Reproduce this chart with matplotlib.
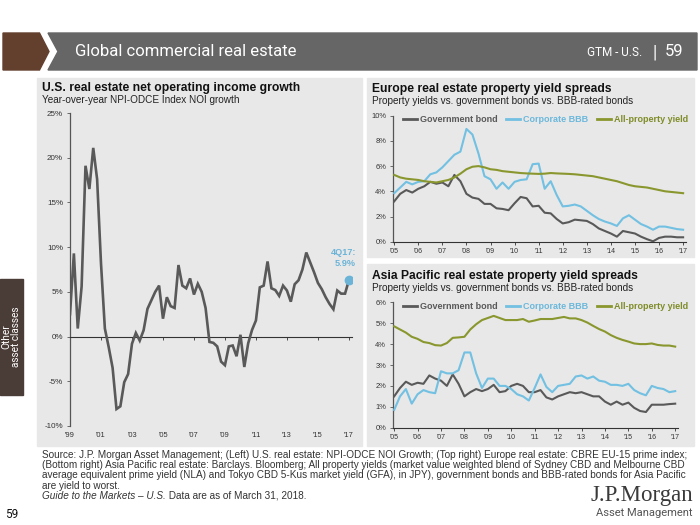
import matplotlib

matplotlib.use("Agg")
import matplotlib.pyplot as plt
from matplotlib.patches import Polygon, Rectangle

plt.rcParams["font.family"] = ["Liberation Sans", "DejaVu Sans"]

W, H = 700, 525

# --- datos ---
US_START = 1999  # trimestral, 1T99 .. 4T17
us_noi = [2.5, 9.3, 0.9, 5.6, 19.1, 16.5, 21.1, 17.6, 8.2, 0.9,
          -1.2, -3.5, -8.1, -7.8, -5.1, -4.2, -0.8, 0.4, -0.45, 0.7,
          3.1, 4.05, 5.0, 5.7, 2.0, 4.4, 3.4, 3.2, 8.0, 5.7,
          5.4, 6.5, 4.7, 5.9, 5.0, 3.2, -0.6, -0.7, -1.1, -2.8,
          -3.2, -1.1, -1.0, -2.2, 0.2, -3.4, -0.75, 0.75, 1.8, 5.5,
          5.7, 8.4, 5.4, 5.2, 4.55, 5.7, 5.15, 3.9, 5.85, 6.3,
          7.5, 9.4, 8.3, 7.2, 6.0, 5.3, 4.4, 3.65, 3.05, 5.15,
          4.8, 4.8, 6.3]
us_xticks = list(range(1999, 2018, 2))
us_xlabels = ["'99", "'01", "'03", "'05", "'07", "'09", "'11", "'13", "'15", "'17"]
us_yticks = [-10, -5, 0, 5, 10, 15, 20, 25]
us_ylabels = ["-10%", "-5%", "0%", "5%", "10%", "15%", "20%", "25%"]

YIELD_START = 2005  # trimestral, 2005 .. 2017
eu_gov = [3.2, 3.8, 4.1, 3.9, 4.2, 4.4, 4.75, 4.6, 4.7, 4.4,
          5.3, 4.8, 3.8, 3.5, 3.4, 3.0, 3.0, 2.65, 2.6, 2.5,
          3.05, 3.55, 3.45, 2.8, 2.85, 2.3, 2.25, 1.8, 1.45, 1.55,
          1.75, 1.7, 1.65, 1.4, 1.05, 0.85, 0.65, 0.4, 0.85, 0.75,
          0.65, 0.4, 0.2, 0.03, 0.3, 0.4, 0.4, 0.35, 0.35]
eu_bbb = [3.85, 4.3, 4.75, 4.55, 4.75, 4.8, 5.35, 5.5, 5.9, 6.4,
          6.9, 7.15, 8.95, 8.5, 7.0, 5.2, 4.95, 4.2, 4.7, 4.2,
          4.75, 4.9, 4.95, 6.15, 6.2, 4.2, 4.8, 3.7, 2.8, 2.85,
          2.95, 2.8, 2.45, 2.1, 1.8, 1.6, 1.45, 1.25, 1.85, 2.1,
          1.75, 1.4, 1.2, 0.95, 1.2, 1.2, 1.1, 1.0, 0.95]
eu_prop = [5.3, 5.1, 5.0, 4.95, 4.9, 4.8, 4.75, 4.7, 4.8, 4.9,
           5.1, 5.4, 5.75, 5.95, 6.0, 5.9, 5.75, 5.7, 5.6, 5.55,
           5.5, 5.45, 5.42, 5.4, 5.38, 5.4, 5.45, 5.42, 5.4, 5.38,
           5.35, 5.3, 5.25, 5.2, 5.1, 5.0, 4.9, 4.8, 4.65, 4.5,
           4.4, 4.35, 4.3, 4.2, 4.1, 4.0, 3.95, 3.9, 3.85]
ap_gov = [1.5, 1.9, 2.2, 2.05, 2.15, 2.1, 2.5, 2.35, 2.25, 2.0,
          2.55, 2.1, 1.5, 1.7, 1.85, 1.75, 1.85, 2.05, 1.7, 1.75,
          2.0, 2.1, 2.0, 1.7, 1.7, 1.8, 1.45, 1.35, 1.5, 1.6,
          1.7, 1.65, 1.7, 1.6, 1.5, 1.5, 1.25, 1.1, 1.25, 1.1,
          1.2, 0.95, 0.8, 0.75, 1.1, 1.1, 1.1, 1.13, 1.15]
ap_bbb = [0.85, 1.5, 1.85, 1.15, 1.6, 1.8, 1.7, 1.65, 2.7, 2.6,
          2.6, 2.75, 3.6, 3.6, 2.6, 1.9, 2.35, 2.35, 2.0, 2.0,
          1.85, 1.6, 1.5, 1.3, 1.9, 2.55, 1.95, 1.7, 2.0, 2.05,
          2.1, 2.45, 2.5, 2.35, 2.45, 2.25, 2.2, 2.05, 2.05, 2.0,
          2.1, 1.8, 1.65, 1.55, 2.0, 1.9, 1.85, 1.7, 1.75]
ap_prop = [4.85, 4.7, 4.55, 4.35, 4.25, 4.1, 4.05, 3.95, 3.93, 4.05,
           4.3, 4.32, 4.35, 4.7, 4.95, 5.15, 5.25, 5.35, 5.25, 5.15,
           5.15, 5.15, 5.2, 5.07, 5.13, 5.2, 5.2, 5.2, 5.25, 5.3,
           5.23, 5.23, 5.15, 5.03, 4.87, 4.72, 4.6, 4.43, 4.3, 4.2,
           4.12, 4.03, 4.0, 4.0, 4.03, 3.96, 3.93, 3.93, 3.88]
yield_xticks = list(range(2005, 2018))
yield_xlabels = ["'05", "'06", "'07", "'08", "'09", "'10", "'11", "'12",
                 "'13", "'14", "'15", "'16", "'17"]
series_names = ["Government bond", "Corporate BBB", "All-property yield"]

source_lines = [
    "Source: J.P. Morgan Asset Management; (Left) U.S. real estate: NPI-ODCE NOI Growth; (Top right) Europe real estate: CBRE EU-15 prime index;",
    "(Bottom right) Asia Pacific real estate: Barclays. Bloomberg; All property yields (market value weighted blend of Sydney CBD and Melbourne CBD",
    "average equivalent prime yield (NLA) and Tokyo CBD 5-Kus market yield (GFA), in JPY), government bonds and BBB-rated bonds for Asia Pacific",
    "are yield to worst.",
]

# --- estilo ---
GRAY_LINE = "#595959"
OLIVE = "#8a972e"
PANEL = "#e8e8e8"
TXT = "#333333"


def fx(x):
    return x / W


def fy(y):
    return 1 - y / H


def quarters(start, n):
    return [start + i / 4 for i in range(n)]


fig = plt.figure(figsize=(7, 5.25), dpi=100)

# cabecera
fig.patches.append(Polygon([(fx(3), fy(33)), (fx(39.5), fy(33)), (fx(49), fy(51.5)),
                            (fx(39.5), fy(70)), (fx(3), fy(70))],
                           closed=True, transform=fig.transFigure, color="#633f2e"))
fig.patches.append(Polygon([(fx(48), fy(33)), (fx(697), fy(33)), (fx(697), fy(70)),
                            (fx(48), fy(70)), (fx(58), fy(51.5))],
                           closed=True, transform=fig.transFigure, color="#666666"))
fig.text(fx(75), fy(52), "Global commercial real estate", color="white",
         family="Roboto", fontsize=12, va="center", ha="left")
fig.text(fx(642), fy(53), "GTM - U.S.", color="white", family="Roboto",
         fontsize=8.5, va="center", ha="right")
fig.text(fx(655), fy(52), "|", color="white", family="Roboto", fontsize=13,
         va="center", ha="center")
fig.text(fx(683), fy(52), "59", color="white", family="Roboto", fontsize=12,
         va="center", ha="right")

# pestaña lateral
fig.patches.append(Rectangle((0, fy(395)), fx(23), (395 - 279) / H,
                             transform=fig.transFigure, color="#4a3c37"))
fig.text(fx(16), fy(337), "asset classes", color="white", family="Roboto",
         fontsize=7.2, rotation=90, va="center", ha="center")
fig.text(fx(6), fy(337), "Other", color="white", family="Roboto",
         fontsize=7.2, rotation=90, va="center", ha="center")

# paneles de fondo
for x0, y0, x1, y1 in [(37, 78, 362, 446), (367, 78, 694, 257), (367, 264, 694, 446)]:
    fig.patches.append(Rectangle((fx(x0), fy(y1)), (x1 - x0) / W, (y1 - y0) / H,
                                 transform=fig.transFigure, color=PANEL, zorder=-1))


def titles(x, y, title, subtitle):
    fig.text(fx(x), fy(y), title, fontsize=8.7, fontweight="bold", color="#111111",
             va="center", ha="left")
    fig.text(fx(x), fy(y + 12), subtitle, fontsize=7.2, color="#222222",
             va="center", ha="left")


titles(42, 88, "U.S. real estate net operating income growth",
       "Year-over-year NPI-ODCE Index NOI growth")
titles(372, 89, "Europe real estate property yield spreads",
       "Property yields vs. government bonds vs. BBB-rated bonds")
titles(372, 276, "Asia Pacific real estate property yield spreads",
       "Property yields vs. government bonds vs. BBB-rated bonds")


def add_axes(x0, x1, y0, y1):
    ax = fig.add_axes([fx(x0), fy(y1), (x1 - x0) / W, (y1 - y0) / H])
    ax.patch.set_visible(False)
    for s in ("top", "right"):
        ax.spines[s].set_visible(False)
    ax.spines["left"].set_color("#555555")
    ax.spines["left"].set_linewidth(0.9)
    ax.spines["bottom"].set_color("#333333")
    ax.spines["bottom"].set_linewidth(0.8)
    ax.tick_params(axis="y", direction="out", length=2, width=0.6, color="#555555",
                   labelcolor=TXT, pad=3)
    return ax


# --- izquierda: NOI EE. UU. ---
ax = add_axes(70, 352, 113, 426)
ax.plot(quarters(US_START, len(us_noi)), us_noi, color=GRAY_LINE, lw=1.9,
        solid_joinstyle="miter", zorder=3)
ax.plot([quarters(US_START, len(us_noi))[-1]], [us_noi[-1]], "o", color="#6bb4d8",
        ms=6, zorder=4)
ax.set_xlim(US_START, 2017.2)
ax.set_ylim(-10, 25)
ax.set_yticks(us_yticks, us_ylabels, fontsize=5.8)
ax.spines["bottom"].set_position(("data", 0))
ax.set_xticks(us_xticks, [""] * len(us_xticks))
ax.tick_params(axis="x", direction="out", length=2, width=0.6, color="#333333")
sec = ax.secondary_xaxis("bottom")
sec.set_xticks(us_xticks, us_xlabels, fontsize=5.4)
sec.tick_params(length=0, pad=4, labelcolor=TXT)
sec.spines["bottom"].set_visible(False)
fig.text(fx(356), fy(253), "4Q17:", color="#6bb4d8", fontsize=6.6,
         fontweight="bold", ha="right", va="center")
fig.text(fx(356), fy(263), "5.9%", color="#6bb4d8", fontsize=6.6,
         fontweight="bold", ha="right", va="center")


def yield_chart(box, gov, bbb, prop, ymax, legend_xy):
    ax = add_axes(*box)
    xs = quarters(YIELD_START, len(gov))
    for vals, c in zip((gov, bbb, prop), (GRAY_LINE, "#72c0e2", OLIVE)):
        ax.plot(xs, vals, color=c, lw=1.5, zorder=3)
    ax.set_xlim(2004.95, 2017.12)
    ax.set_ylim(0, ymax)
    step = 2 if ymax > 6 else 1
    yt = list(range(0, ymax + 1, step))
    ax.set_yticks(yt, [f"{v}%" for v in yt], fontsize=5.4)
    ax.set_xticks(yield_xticks, yield_xlabels, fontsize=5.0)
    ax.tick_params(axis="x", direction="out", length=2, width=0.6, color="#333333",
                   labelcolor=TXT, pad=2.5)
    leg = ax.legend(ax.lines, series_names, ncol=3, loc="center left",
                    bbox_to_anchor=legend_xy, frameon=False, borderpad=0,
                    borderaxespad=0, handlelength=1.6, handletextpad=0.3,
                    columnspacing=0.95, prop={"size": 6.5, "weight": "bold"})
    for t, c in zip(leg.get_texts(), (GRAY_LINE, "#6bb8db", "#7f8c27")):
        t.set_color(c)
    for ln in leg.get_lines():
        ln.set_linewidth(2.0)
    return ax


yield_chart((393, 686, 115.7, 241.7), eu_gov, eu_bbb, eu_prop, 10, (0.033, 0.97))
yield_chart((393, 678, 302.3, 427.7), ap_gov, ap_bbb, ap_prop, 6, (0.034, 0.965))

# --- pie ---
for k, line in enumerate(source_lines):
    fig.text(fx(42), fy(455 + 10.2 * k), line, fontsize=7.2, color=TXT,
             va="center", ha="left")
g = fig.text(fx(42), fy(496), "Guide to the Markets \u2013 U.S.", fontsize=7.2,
             color=TXT, style="italic", va="center", ha="left")
ax.annotate(" Data are as of March 31, 2018.", xy=(1, 0.5), xycoords=g,
            fontsize=7.2, color=TXT, va="center", ha="left", annotation_clip=False)
fig.text(fx(5), fy(514), "59", fontsize=8.5, family="Roboto", color="#111111",
         va="center", ha="left")
fig.text(fx(693), fy(495), "J.P.Morgan", family="Liberation Serif", fontsize=16.5,
         color="#3a3a3a", va="center", ha="right")
fig.text(fx(693), fy(513), "Asset Management", family="Roboto", fontsize=8,
         color="#555555", va="center", ha="right")

fig.savefig("out.png", dpi=100)
